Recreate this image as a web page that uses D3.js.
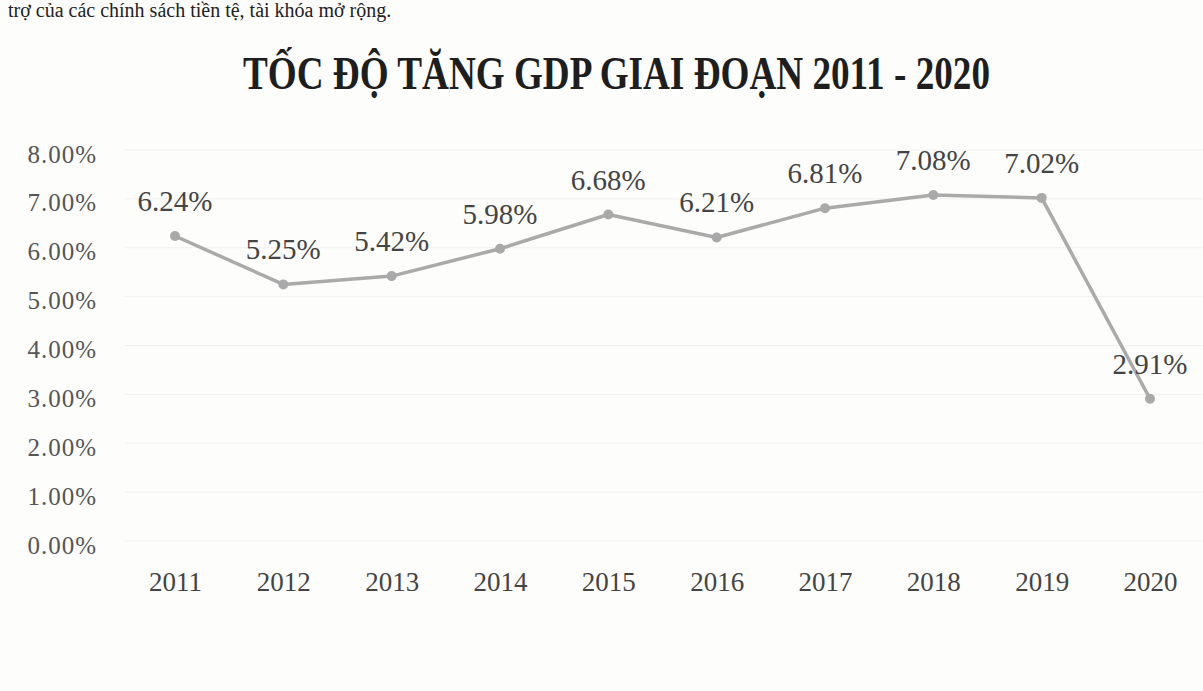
<!DOCTYPE html>
<html>
<head>
<meta charset="utf-8">
<script src="https://cdn.jsdelivr.net/npm/d3@7"></script>
<style>
  body { margin: 0; background: #fdfdfc; }
  svg { display: block; font-family: "Liberation Serif", "Times New Roman", serif; }
</style>
</head>
<body>
<div id="chart"></div>
<script>
// data
const years = ["2011", "2012", "2013", "2014", "2015", "2016", "2017", "2018", "2019", "2020"];
const growth = [6.24, 5.25, 5.42, 5.98, 6.68, 6.21, 6.81, 7.08, 7.02, 2.91];
const yTicks = [0, 1, 2, 3, 4, 5, 6, 7, 8];

const title = "TỐC ĐỘ TĂNG GDP GIAI ĐOẠN 2011 - 2020";
const topLine = "trợ của các chính sách tiền tệ, tài khóa mở rộng.";

const width = 1203, height = 691;

const svg = d3.select("#chart")
    .append("svg")
    .attr("width", width)
    .attr("height", height);

svg.append("rect")
    .attr("width", width)
    .attr("height", height)
    .attr("fill", "#fdfdfc");

// line of body text above the chart
svg.append("text")
    .attr("x", 8)
    .attr("y", 17)
    .attr("font-size", 20)
    .attr("fill", "#222")
    .text(topLine);

svg.append("text")
    .attr("x", 243)
    .attr("y", 89)
    .attr("font-size", 46)
    .attr("font-weight", "bold")
    .attr("textLength", 747)
    .attr("lengthAdjust", "spacingAndGlyphs")
    .attr("fill", "#1e1e1e")
    .text(title);

const x = d3.scalePoint()
    .domain(years)
    .range([175, 1150]);

const y = d3.scaleLinear()
    .domain([0, 8])
    .range([541, 150]);

// faint gridlines
svg.append("g")
    .selectAll("line")
    .data(yTicks)
    .enter()
    .append("line")
    .attr("x1", 125)
    .attr("x2", 1203)
    .attr("y1", d => y(d))
    .attr("y2", d => y(d))
    .attr("stroke", "#f1f1f1")
    .attr("stroke-width", 1);

// y axis labels
const yAxis = d3.axisLeft(y)
    .tickValues(yTicks)
    .tickSize(0)
    .tickPadding(0)
    .tickFormat(d => d3.format(".2f")(d) + "%");

const gy = svg.append("g")
    .attr("transform", "translate(97, 4)")
    .call(yAxis);
gy.select(".domain").remove();
gy.selectAll("text")
    .attr("font-family", "Liberation Serif, serif")
    .attr("font-size", 25)
    .attr("letter-spacing", 1)
    .attr("fill", "#555");

// x axis labels
const xAxis = d3.axisBottom(x).tickSize(0).tickPadding(0);
const gx = svg.append("g")
    .attr("transform", "translate(0, 568)")
    .call(xAxis);
gx.select(".domain").remove();
gx.selectAll("text")
    .attr("font-family", "Liberation Serif, serif")
    .attr("font-size", 27)
    .attr("fill", "#444")
    .attr("dy", "0.85em");

// the line
const line = d3.line()
    .x((d, i) => x(years[i]))
    .y(d => y(d));

svg.append("path")
    .datum(growth)
    .attr("d", line)
    .attr("fill", "none")
    .attr("stroke", "#aaaaaa")
    .attr("stroke-width", 3.5)
    .attr("stroke-linejoin", "round");

svg.selectAll("circle.pt")
    .data(growth)
    .enter()
    .append("circle")
    .attr("class", "pt")
    .attr("cx", (d, i) => x(years[i]))
    .attr("cy", d => y(d))
    .attr("r", 5)
    .attr("fill", "#a9a9a9");

svg.selectAll("text.val")
    .data(growth)
    .enter()
    .append("text")
    .attr("class", "val")
    .attr("x", (d, i) => x(years[i]))
    .attr("y", d => y(d) - 25)
    .attr("text-anchor", "middle")
    .attr("font-size", 29)
    .attr("fill", "#444")
    .text(d => d3.format(".2f")(d) + "%");
</script>
</body>
</html>
